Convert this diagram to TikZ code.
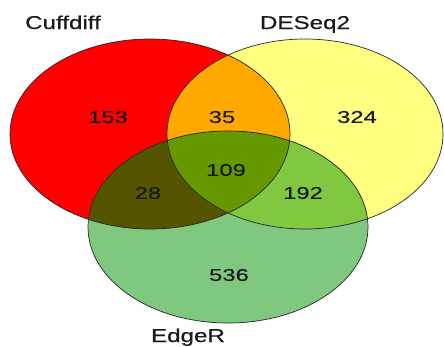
\documentclass[tikz,border=0pt]{standalone}
\usepackage{fontspec}
\setmainfont{Liberation Sans}
\newfontfamily\vennfont[FakeBold=0.4]{Liberation Sans}
\definecolor{cR}{HTML}{FF0000}
\definecolor{cY}{HTML}{FFFF80}
\definecolor{cG}{HTML}{80C880}
\definecolor{cRY}{HTML}{FFA800}
\definecolor{cRG}{HTML}{555500}
\definecolor{cYG}{HTML}{80C840}
\definecolor{cRYG}{HTML}{669900}
\definecolor{txt}{HTML}{1A1A1A}
\tikzset{
  outline/.style={draw=black!85, line width=0.7pt},
  num/.style={font=\vennfont\fontsize{17}{20}\selectfont, text=txt, xscale=1.4, inner sep=0pt},
  setlabel/.style={font=\vennfont\fontsize{18.6}{22}\selectfont, text=txt, xscale=1.3, inner sep=0pt, anchor=base}
}
\begin{document}
\begin{tikzpicture}[x=1pt,y=-1pt]
\useasboundingbox (0,0) rectangle (444,346);
\fill[white] (0,0) rectangle (444,346);
\clip (0,0) rectangle (444,346);
\def\Rell{(150,134) ellipse [x radius=140, y radius=95]}
\def\Yell{(305,134) ellipse [x radius=138, y radius=95]}
\def\Gell{(228,227) ellipse [x radius=140, y radius=96]}
\fill[cR] \Rell;
\fill[cY] \Yell;
\fill[cG] \Gell;
\begin{scope}\clip \Rell; \fill[cRY] \Yell; \end{scope}
\begin{scope}\clip \Rell; \fill[cRG] \Gell; \end{scope}
\begin{scope}\clip \Yell; \fill[cYG] \Gell; \end{scope}
\begin{scope}\clip \Rell; \clip \Yell; \fill[cRYG] \Gell; \end{scope}
\draw[outline] \Rell;
\draw[outline] \Yell;
\draw[outline] \Gell;
\node[num] (n153) at (108,117) {153};
\node[num] (n35) at (222,117) {35};
\node[num] (n324) at (357,117) {324};
\node[num] (n109) at (226,170) {109};
\node[num] (n28) at (148,193) {28};
\node[num] (n192) at (303,193) {192};
\node[num] (n536) at (229,275) {536};
\node[setlabel] (lc) at (63,29) {Cuffdiff};
\node[setlabel] (ld) at (305,29) {DESeq2};
\node[setlabel] (le) at (188,342) {EdgeR};
\end{tikzpicture}
\end{document}
